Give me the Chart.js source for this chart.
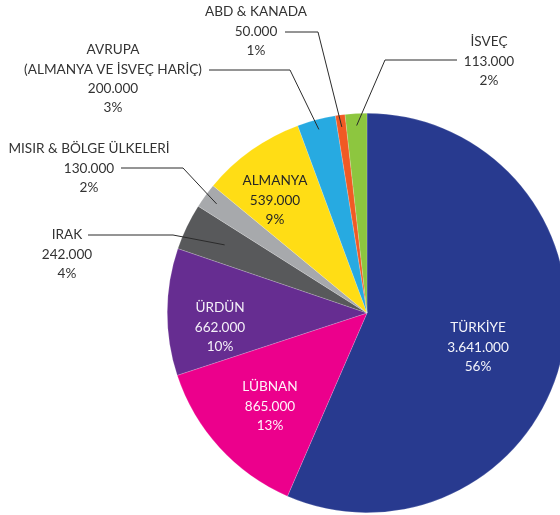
<!DOCTYPE html>
<html>
<head>
<meta charset="utf-8">
<script src="https://cdn.jsdelivr.net/npm/chart.js@4"></script>
<style>
  html, body { margin: 0; padding: 0; background: #fff; overflow: hidden; }
  #wrap { width: 560px; height: 515px; overflow: hidden; }
</style>
</head>
<body>
<div id="wrap"><canvas id="pieChart" width="574" height="515"></canvas></div>
<script>
// data
const categories = ['TÜRKİYE', 'LÜBNAN', 'ÜRDÜN', 'IRAK', 'MISIR & BÖLGE ÜLKELERİ', 'ALMANYA', 'AVRUPA|(ALMANYA VE İSVEÇ HARİÇ)', 'ABD & KANADA', 'İSVEÇ'];
const values = [3641000, 865000, 662000, 242000, 130000, 539000, 200000, 50000, 113000];
const percentLabels = ['56%', '13%', '10%', '4%', '2%', '9%', '3%', '1%', '2%'];

const colors = ['#283a8f', '#ec008c', '#662d91', '#58595b', '#a7a9ac', '#ffdd15', '#27aae1', '#f15a24', '#8dc63f'];

// where the text blocks sit (x centre, y of first line) and the elbow of the leader line
const labelSpots = [
    { x: 478, y: 328, color: '#f4f4fa' },
    { x: 270, y: 387, color: '#fff4fa' },
    { x: 220, y: 308, color: '#f4f0f8' },
    { x: 67, y: 235, color: '#333333', line: [[88, 235], [173, 235]], r: 0.79 },
    { x: 89, y: 149, color: '#333333', line: [[121, 168], [183, 168]], r: 0.93 },
    { x: 275, y: 181, color: '#262626' },
    { x: 113, y: 50, color: '#333333', line: [[209, 70], [290, 70]], r: 0.95 },
    { x: 256, y: 12, color: '#333333', line: [[285, 32], [318, 32]], r: 0.94 },
    { x: 489, y: 42, color: '#333333', line: [[457, 60], [385, 60]], r: 0.94 }
];

function fmt(v) {
    return String(v).replace(/\B(?=(\d{3})+(?!\d))/g, '.');
}

const labelPlugin = {
    id: 'sliceLabels',
    afterDraw(chart) {
        const ctx = chart.ctx;
        const arcs = chart.getDatasetMeta(0).data;
        ctx.save();
        ctx.font = '13.6px Lato, "Open Sans", sans-serif';
        ctx.textAlign = 'center';
        ctx.textBaseline = 'middle';

        arcs.forEach((arc, i) => {
            const spot = labelSpots[i];
            const lines = categories[i].split('|').concat([fmt(values[i]), percentLabels[i]]);

            // leader line from the elbow to the slice
            if (spot.line) {
                const p = arc.getProps(['x', 'y', 'startAngle', 'endAngle', 'outerRadius']);
                const mid = (p.startAngle + p.endAngle) / 2;
                const ex = p.x + Math.cos(mid) * p.outerRadius * spot.r;
                const ey = p.y + Math.sin(mid) * p.outerRadius * spot.r;
                ctx.beginPath();
                ctx.strokeStyle = '#2b2b2b';
                ctx.lineWidth = 1;
                ctx.moveTo(spot.line[0][0], spot.line[0][1]);
                ctx.lineTo(spot.line[1][0], spot.line[1][1]);
                ctx.lineTo(ex, ey);
                ctx.stroke();
            }

            ctx.fillStyle = spot.color;
            lines.forEach((t, k) => {
                ctx.fillText(t, spot.x, spot.y + k * 19.3);
            });
        });
        ctx.restore();
    }
};

new Chart(document.getElementById('pieChart'), {
    type: 'pie',
    data: {
        labels: categories,
        datasets: [{
            data: values,
            backgroundColor: colors,
            borderColor: 'rgba(255,255,255,0.35)',
            borderWidth: 0.5
        }]
    },
    options: {
        responsive: false,
        animation: false,
        layout: { padding: { left: 167, right: 7, top: 113, bottom: 2 } },
        plugins: {
            legend: { display: false },
            tooltip: { enabled: false }
        }
    },
    plugins: [labelPlugin]
});
</script>
</body>
</html>
